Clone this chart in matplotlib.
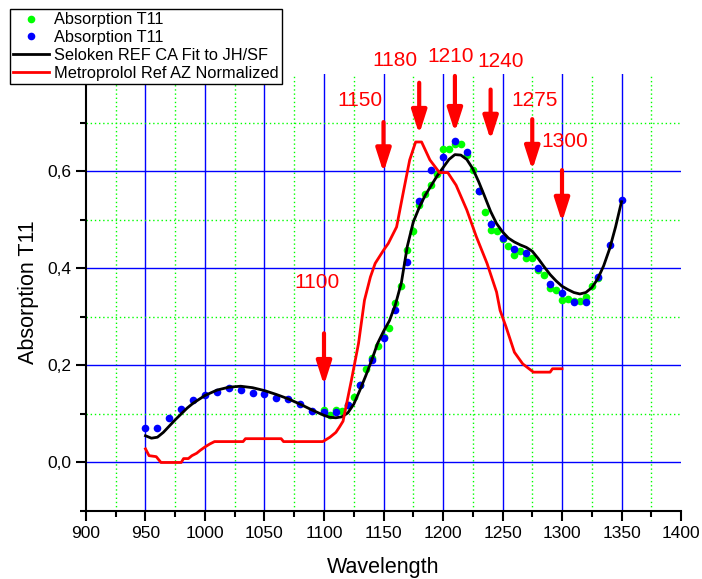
import numpy as np
import matplotlib
matplotlib.use("Agg")
import matplotlib.pyplot as plt
from matplotlib.ticker import MultipleLocator, FixedLocator, FuncFormatter

plt.rcParams['font.family'] = ['Liberation Sans', 'DejaVu Sans']

# green points (5 nm step)
green_x = [1100, 1105, 1110, 1115, 1120, 1125, 1130, 1135, 1140, 1145, 1150, 1155,
           1160, 1165, 1170, 1175, 1180, 1185, 1190, 1195, 1200, 1205, 1210, 1215,
           1220, 1225, 1230, 1235, 1240, 1245, 1250, 1255, 1260, 1265, 1270, 1275,
           1280, 1285, 1290, 1295, 1300, 1305, 1310, 1315, 1320, 1325, 1330]
green_y = [0.108, 0.097, 0.108, 0.105, 0.118, 0.135, 0.160, 0.193, 0.215, 0.239, 0.258, 0.277,
           0.328, 0.364, 0.437, 0.476, 0.530, 0.552, 0.571, 0.594, 0.645, 0.645, 0.655, 0.655,
           0.634, 0.602, 0.560, 0.516, 0.478, 0.477, 0.460, 0.446, 0.427, 0.436, 0.422, 0.422,
           0.397, 0.386, 0.360, 0.355, 0.334, 0.336, 0.333, 0.333, 0.341, 0.363, 0.380]

# blue points (10 nm step)
blue_x = [950, 960, 970, 980, 990, 1000, 1010, 1020, 1030, 1040, 1050, 1060, 1070, 1080,
          1090, 1100, 1110, 1120, 1130, 1140, 1150, 1160, 1170, 1180, 1190, 1200, 1210,
          1220, 1230, 1240, 1250, 1260, 1270, 1280, 1290, 1300, 1310, 1320, 1330, 1340, 1350]
blue_y = [0.072, 0.072, 0.091, 0.111, 0.128, 0.138, 0.146, 0.153, 0.150, 0.144, 0.140, 0.132,
          0.130, 0.121, 0.107, 0.104, 0.104, 0.118, 0.159, 0.212, 0.256, 0.315, 0.413, 0.538,
          0.603, 0.630, 0.663, 0.639, 0.559, 0.492, 0.462, 0.439, 0.432, 0.400, 0.368, 0.348,
          0.331, 0.331, 0.381, 0.448, 0.540]

# fit curve
fit_x = [950, 955, 960, 965, 970, 975, 980, 985, 990, 1000, 1010, 1020, 1030, 1040, 1050,
         1060, 1070, 1080, 1090, 1100, 1105, 1110, 1115, 1120, 1125, 1130, 1135, 1140, 1145,
         1150, 1155, 1160, 1165, 1170, 1175, 1180, 1185, 1190, 1195, 1200, 1205, 1210, 1215,
         1220, 1225, 1230, 1235, 1240, 1245, 1250, 1255, 1260, 1265, 1270, 1275, 1280, 1285,
         1290, 1295, 1300, 1305, 1310, 1315, 1320, 1325, 1330, 1335, 1340, 1345, 1350]
fit_y = [0.055, 0.050, 0.052, 0.062, 0.075, 0.088, 0.100, 0.112, 0.122, 0.138, 0.149, 0.155,
         0.157, 0.154, 0.148, 0.140, 0.131, 0.120, 0.108, 0.097, 0.093, 0.092, 0.094, 0.102,
         0.120, 0.148, 0.178, 0.210, 0.245, 0.270, 0.292, 0.325, 0.370, 0.445, 0.495, 0.525,
         0.550, 0.570, 0.590, 0.607, 0.624, 0.634, 0.633, 0.624, 0.605, 0.578, 0.548, 0.517,
         0.492, 0.475, 0.462, 0.454, 0.448, 0.443, 0.435, 0.420, 0.403, 0.387, 0.374, 0.363,
         0.356, 0.350, 0.347, 0.350, 0.360, 0.378, 0.405, 0.440, 0.485, 0.537]

# reference spectrum
ref_x = [950, 953, 959, 963, 980, 982, 986, 989, 993, 996, 1000, 1004, 1008, 1032, 1034,
         1064, 1066, 1099, 1105, 1110, 1113, 1116, 1119, 1123, 1129, 1134, 1139, 1143, 1150,
         1154, 1161, 1167, 1172, 1177, 1182, 1189, 1197, 1204, 1211, 1220, 1228, 1237, 1245,
         1248, 1253, 1260, 1267, 1276, 1290, 1292, 1300]
ref_y = [0.028, 0.014, 0.012, 0.0, 0.0, 0.008, 0.008, 0.014, 0.019, 0.025, 0.032, 0.038,
         0.043, 0.043, 0.049, 0.049, 0.043, 0.043, 0.052, 0.062, 0.073, 0.085, 0.121, 0.169,
         0.245, 0.334, 0.382, 0.410, 0.437, 0.451, 0.485, 0.561, 0.623, 0.660, 0.660, 0.623,
         0.597, 0.597, 0.571, 0.520, 0.465, 0.410, 0.351, 0.313, 0.279, 0.227, 0.203, 0.186,
         0.186, 0.193, 0.193]

# marker annotations
mark_labels = ['1100', '1150', '1180', '1210', '1240', '1275', '1300']
mark_x = [1100, 1150, 1180, 1210, 1240, 1275, 1300]
arrow_top = [0.266, 0.701, 0.782, 0.796, 0.768, 0.707, 0.602]
arrow_tip = [0.159, 0.597, 0.676, 0.680, 0.664, 0.602, 0.495]
label_x = [1094.5, 1130.3, 1160, 1206.7, 1248.3, 1277.3, 1302.5]
label_y = [0.371, 0.746, 0.827, 0.836, 0.825, 0.746, 0.662]

fig = plt.figure(figsize=(7.02, 5.79), dpi=100)
ax = fig.add_axes([0.1225, 0.1174, 0.8476, 0.7548])

ax.set_xlim(900, 1400)
ax.set_ylim(-0.1, 0.8)

for x in range(950, 1400, 50):
    ax.axvline(x, color='#0000ff', lw=1.0, zorder=0.5)
for x in range(925, 1400, 50):
    ax.axvline(x, color='#00ff00', lw=1.0, ls=(0, (1, 2)), zorder=0.5)
for y in [0.0, 0.2, 0.4, 0.6]:
    ax.axhline(y, color='#0000ff', lw=1.0, zorder=0.5)
for y in [0.1, 0.3, 0.5, 0.7]:
    ax.axhline(y, color='#00ff00', lw=1.0, ls=(0, (1, 2)), zorder=0.5)

ax.plot(green_x, green_y, 'o', color='#00ff00', ms=5.5, mec='none', label='Absorption T11')
ax.plot(blue_x, blue_y, 'o', color='#0000ff', ms=5.5, mec='none', label='Absorption T11')
ax.plot(fit_x, fit_y, '-', color='black', lw=2, label='Seloken REF CA Fit to JH/SF')
ax.plot(ref_x, ref_y, '-', color='#ff0000', lw=2, label='Metroprolol Ref AZ Normalized')

for i in range(len(mark_x)):
    ax.annotate('', xy=(mark_x[i], arrow_tip[i]), xytext=(mark_x[i], arrow_top[i]),
                arrowprops=dict(arrowstyle='-|>,head_width=0.45,head_length=1.4',
                                lw=3, color='#ff0000', shrinkA=0, shrinkB=0),
                annotation_clip=False)
    ax.text(label_x[i], label_y[i], mark_labels[i], color='#ff0000', fontsize=15,
            ha='center', va='center', clip_on=False)

ax.xaxis.set_major_locator(MultipleLocator(50))
ax.xaxis.set_minor_locator(MultipleLocator(25))
ax.yaxis.set_major_locator(FixedLocator([0.0, 0.2, 0.4, 0.6]))
ax.yaxis.set_minor_locator(FixedLocator([-0.1, 0.1, 0.3, 0.5, 0.7]))
ax.yaxis.set_major_formatter(FuncFormatter(lambda v, p: ('%.1f' % v).replace('.', ',')))

ax.tick_params(which='major', direction='out', length=7, width=1.5, labelsize=12.5, colors='black')
ax.tick_params(which='minor', direction='out', length=4, width=1.5)
for s in ['top', 'right']:
    ax.spines[s].set_visible(False)
for s in ['left', 'bottom']:
    ax.spines[s].set_linewidth(1.5)

ax.set_xlabel('Wavelength', fontsize=15.5, labelpad=12)
ax.set_ylabel('Absorption T11', fontsize=15.5, labelpad=6)

leg = fig.legend(loc='upper left', bbox_to_anchor=(10 / 702, 1 - 9 / 579), fontsize=11.8,
                 frameon=True, fancybox=False, edgecolor='black', framealpha=1,
                 borderaxespad=0, borderpad=0.2, labelspacing=0.18, handlelength=2.2,
                 handletextpad=0.3, numpoints=1)
leg.get_frame().set_linewidth(1.0)

fig.savefig('out.png', dpi=100)
